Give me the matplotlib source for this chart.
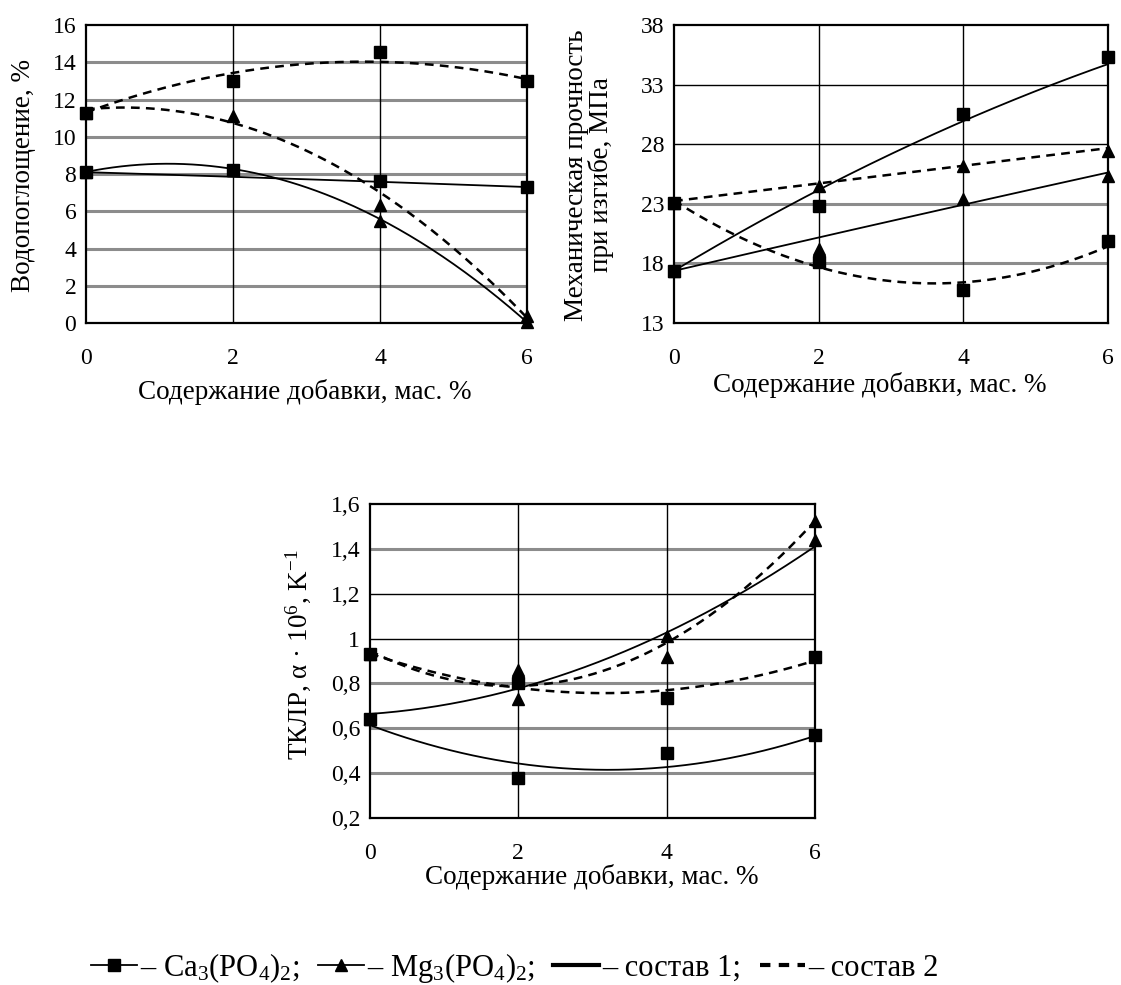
import numpy as np
import matplotlib
matplotlib.use("Agg")
import matplotlib.pyplot as plt
from matplotlib.lines import Line2D

plt.rcParams['font.family'] = ['Liberation Serif', 'DejaVu Serif']
plt.rcParams['mathtext.fontset'] = 'custom'
plt.rcParams['mathtext.rm'] = 'Liberation Serif'
plt.rcParams['mathtext.it'] = 'Liberation Serif:italic'

# содержание добавки, мас. %
x = [0, 2, 4, 6]

# Водопоглощение, %  (точки и линия тренда)
w_ca1 = [8.1, 8.2, 7.6, 7.3]
w_mg1 = [8.1, 8.2, 5.45, 0.05]
w_ca2 = [11.25, 13.0, 14.55, 13.0]
w_mg2 = [11.25, 11.1, 6.35, 0.4]
w_ca1_t = [8.1, 7.85, 7.58, 7.3]
w_mg1_t = [8.15, 8.15, 5.7, 0.0]
w_ca2_t = [11.35, 13.3, 14.15, 13.05]
w_mg2_t = [11.5, 10.65, 7.1, 0.25]

# Механическая прочность при изгибе, МПа
s_ca1 = [17.4, 22.8, 30.5, 35.3]
s_mg1 = [17.4, 19.2, 23.4, 25.3]
s_ca2 = [23.1, 18.1, 15.8, 19.9]
s_mg2 = [23.1, 24.5, 26.2, 27.4]
s_ca1_t = [17.4, 24.1, 30.0, 34.7]
s_mg1_t = [17.4, 20.1, 23.0, 25.6]
s_ca2_t = [23.2, 17.9, 16.2, 19.5]
s_mg2_t = [23.2, 24.8, 26.1, 27.7]

# ТКЛР
k_ca1 = [0.64, 0.38, 0.49, 0.57]
k_mg1 = [0.64, 0.86, 1.01, 1.44]
k_ca2 = [0.93, 0.80, 0.735, 0.92]
k_mg2 = [0.93, 0.73, 0.92, 1.525]
k_ca1_t = [0.615, 0.44, 0.43, 0.565]
k_mg1_t = [0.665, 0.775, 1.03, 1.41]
k_ca2_t = [0.93, 0.79, 0.76, 0.905]
k_mg2_t = [0.95, 0.775, 0.995, 1.52]

w_ticks = [0, 2, 4, 6, 8, 10, 12, 14, 16]
s_ticks = [13, 18, 23, 28, 33, 38]
k_ticks = [0.2, 0.4, 0.6, 0.8, 1.0, 1.2, 1.4, 1.6]
k_labels = ['0,2', '0,4', '0,6', '0,8', '1', '1,2', '1,4', '1,6']

xlabel = 'Содержание добавки, мас. %'

W, H = 1121, 985
fig = plt.figure(figsize=(W / 100, H / 100), dpi=100)


def box(l, t, r, b):
    return [l / W, 1 - b / H, (r - l) / W, (b - t) / H]


def panel(rect, series, yticks, ylabels, dark):
    ax = fig.add_axes(box(*rect))
    ax.set_xlim(0, 6)
    ax.set_ylim(yticks[0], yticks[-1])
    # сетка
    for v in yticks[1:-1]:
        if v in dark:
            ax.axhline(v, color='black', lw=1.0, zorder=0)
        else:
            ax.axhline(v, color='#8c8c8c', lw=2.2, zorder=0)
    for v in x[1:-1]:
        ax.axvline(v, color='black', lw=1.0, zorder=0)

    xs = np.linspace(0, 6, 200)
    for pts, trend, marker, ls in series:
        coef = np.polyfit(x, trend, 2)
        if ls == '-':
            ax.plot(xs, np.polyval(coef, xs), color='black', lw=1.3, zorder=2)
        else:
            ax.plot(xs, np.polyval(coef, xs), color='black', lw=1.8,
                    dashes=(3.5, 2.5), zorder=2)
    # треугольники под квадратами
    for pts, trend, marker, ls in sorted(series, key=lambda s: s[2] == 's'):
        ms = 9 if marker == 's' else 8.5
        ax.plot(x, pts, ls='none', marker=marker, ms=ms, color='black',
                clip_on=False, zorder=3 if marker == '^' else 4)

    ax.set_xticks(x)
    ax.set_yticks(yticks)
    ax.set_yticklabels(ylabels)
    ax.tick_params(length=0, labelsize=17)
    ax.tick_params(axis='x', pad=18)
    ax.tick_params(axis='y', pad=7)
    for sp in ax.spines.values():
        sp.set_linewidth(1.6)
        sp.set_zorder(5)
    return ax


panel((86, 25, 527, 323),
      [(w_ca1, w_ca1_t, 's', '-'), (w_mg1, w_mg1_t, '^', '-'),
       (w_ca2, w_ca2_t, 's', '--'), (w_mg2, w_mg2_t, '^', '--')],
      w_ticks, [str(v) for v in w_ticks], [])

panel((674, 25, 1108, 323),
      [(s_ca1, s_ca1_t, 's', '-'), (s_mg1, s_mg1_t, '^', '-'),
       (s_ca2, s_ca2_t, 's', '--'), (s_mg2, s_mg2_t, '^', '--')],
      s_ticks, [str(v) for v in s_ticks], [33, 28])

panel((370, 504, 815, 818),
      [(k_ca1, k_ca1_t, 's', '-'), (k_mg1, k_mg1_t, '^', '-'),
       (k_ca2, k_ca2_t, 's', '--'), (k_mg2, k_mg2_t, '^', '--')],
      k_ticks, k_labels, [1.2, 1.0])

# подписи осей
fs = 19.5
fig.text(305 / W, 1 - 392 / H, xlabel, ha='center', va='center', fontsize=fs)
fig.text(880 / W, 1 - 385 / H, xlabel, ha='center', va='center', fontsize=fs)
fig.text(592 / W, 1 - 877 / H, xlabel, ha='center', va='center', fontsize=fs)

fig.text(24 / W, 1 - 176 / H, 'Водопоглощение, %', rotation=90,
         ha='center', va='center', fontsize=fs)
fig.text(589 / W, 1 - 175 / H, 'Механическая прочность\nпри изгибе, МПа',
         rotation=90, ha='center', va='center', fontsize=fs, linespacing=0.95)
fig.text(298 / W, 1 - 655 / H, r'ТКЛР, α · 10$^6$, K$^{-1}$', rotation=90,
         ha='center', va='center', fontsize=fs)

# легенда
handles = [
    Line2D([], [], color='black', lw=1.3, marker='s', ms=9),
    Line2D([], [], color='black', lw=1.3, marker='^', ms=9),
    Line2D([], [], color='black', lw=3.0),
    Line2D([], [], color='black', lw=3.0, dashes=(2.5, 2.0)),
]
labels = [r'– Ca$_3$(PO$_4$)$_2$;', r'– Mg$_3$(PO$_4$)$_2$;',
          '– состав 1;', '– состав 2']
fig.legend(handles, labels, loc='center', bbox_to_anchor=(515 / W, 1 - 968 / H),
           ncol=4, frameon=False, fontsize=22, handlelength=1.5,
           handletextpad=0.1, columnspacing=0.6)

fig.savefig('out.png', dpi=100, facecolor='white')
